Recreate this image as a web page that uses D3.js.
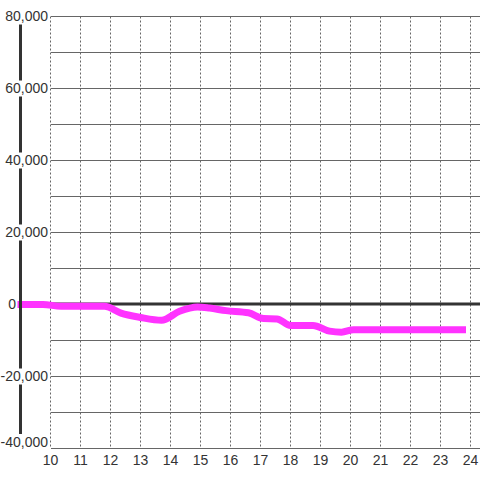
<!DOCTYPE html>
<html>
<head>
<meta charset="UTF-8">
<script src="https://d3js.org/d3.v7.min.js"></script>
<style>
  body { margin: 0; background: #fff; }
  text { font-family: "Liberation Sans", Arial, sans-serif; font-size: 14px; fill: #333; }
</style>
</head>
<body>
<div id="chart"></div>
<script>
// data (hour of day, value)
var hours  = [8.9, 9.75, 10.35, 11.8, 12.35, 13.0, 13.7, 14.3, 14.9, 15.3, 15.85, 16.6, 17.1, 17.55, 18.0, 18.75, 19.3, 19.7, 20.1, 21, 22, 23, 23.85];
var values = [0, 0, -500, -500, -2400, -3600, -4400, -1900, -700, -1000, -1700, -2300, -3900, -4000, -5800, -5800, -7400, -7700, -7000, -7000, -7000, -7000, -7000];

var xTicks = [10, 11, 12, 13, 14, 15, 16, 17, 18, 19, 20, 21, 22, 23, 24];
var yGrid  = [-40000, -30000, -20000, -10000, 0, 10000, 20000, 30000, 40000, 50000, 60000, 70000, 80000];
var yLabels = [-40000, -20000, 20000, 40000, 60000, 80000];

var W = 480, H = 480;
var svg = d3.select("#chart").append("svg")
    .attr("width", W).attr("height", H);

var x = d3.scaleLinear().domain([10, 24]).range([50.5, 470.5]);
var y = d3.scaleLinear().domain([-40000, 80000]).range([448.5, 16.5]);
// plain hyphen for negatives, like the original
var fmt = function(v) { return d3.format(",")(v).replace("\u2212", "-"); };

// horizontal grid
svg.append("g").selectAll("line")
    .data(yGrid)
    .enter().append("line")
    .attr("x1", 51).attr("x2", W)
    .attr("y1", function(d) { return y(d); })
    .attr("y2", function(d) { return y(d); })
    .attr("stroke", "#666").attr("stroke-width", 1);

// vertical dashed grid
svg.append("g").selectAll("line")
    .data(xTicks)
    .enter().append("line")
    .attr("x1", function(d) { return x(d); })
    .attr("x2", function(d) { return x(d); })
    .attr("y1", y(80000)).attr("y2", y(-40000))
    .attr("stroke", "#666").attr("stroke-width", 1)
    .attr("stroke-dasharray", "2,2");

// zero line
svg.append("line")
    .attr("x1", 19).attr("x2", W)
    .attr("y1", y(0) - 0.5).attr("y2", y(0) - 0.5)
    .attr("stroke", "#333").attr("stroke-width", 3);

// the series
var line = d3.line()
    .x(function(d, i) { return x(hours[i]); })
    .y(function(d) { return y(d); })
    .curve(d3.curveMonotoneX);

svg.append("path")
    .datum(values)
    .attr("d", line)
    .attr("fill", "none")
    .attr("stroke", "#ff33ff")
    .attr("stroke-width", 7)
    .attr("stroke-linejoin", "round");

// left axis bar
svg.append("line")
    .attr("x1", 20.5).attr("x2", 20.5)
    .attr("y1", 24).attr("y2", 436)
    .attr("stroke", "#333").attr("stroke-width", 3);

// y labels with white backing
var yl = svg.append("g");
yLabels.forEach(function(v) {
    var ty = Math.min(y(v), 442);
    var t = yl.append("text")
        .attr("x", 48).attr("y", ty).attr("dy", "0.35em")
        .attr("text-anchor", "end")
        .text(fmt(v));
    var b = t.node().getBBox();
    yl.insert("rect", "text")
        .attr("x", b.x - 1).attr("y", ty - 8)
        .attr("width", b.width + 2).attr("height", 16)
        .attr("fill", "#fff");
});

// label for zero line
svg.append("text")
    .attr("x", 16).attr("y", y(0)).attr("dy", "0.35em")
    .attr("text-anchor", "end")
    .text("0");

// x labels
svg.append("g").selectAll("text")
    .data(xTicks)
    .enter().append("text")
    .attr("x", function(d) { return x(d); })
    .attr("y", 465)
    .attr("text-anchor", "middle")
    .text(function(d) { return d; });
</script>
</body>
</html>
